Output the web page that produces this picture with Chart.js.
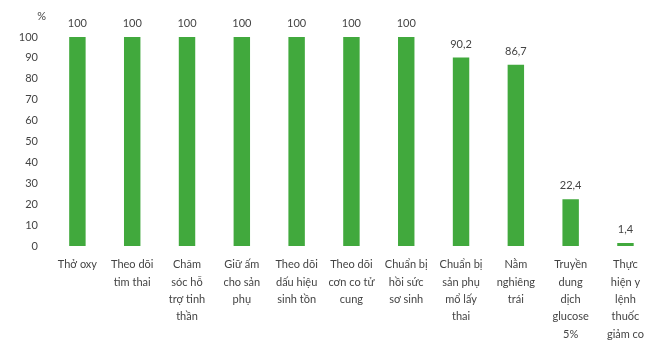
<!DOCTYPE html>
<html>
<head>
<meta charset="utf-8">
<script src="https://cdn.jsdelivr.net/npm/chart.js@4/dist/chart.umd.min.js"></script>
<style>
html,body{margin:0;padding:0;background:#fff;overflow:hidden;width:650px;height:342px;}
#wrap{width:654px;height:342px;position:relative;}
</style>
</head>
<body>
<div id="wrap"><canvas id="c"></canvas></div>
<script>
const categories = [
  ["Thở oxy"],
  ["Theo dõi", "tim thai"],
  ["Chăm", "sóc hỗ", "trợ tinh", "thần"],
  ["Giữ ấm", "cho sản", "phụ"],
  ["Theo dõi", "dấu hiệu", "sinh tồn"],
  ["Theo dõi", "cơn co tử", "cung"],
  ["Chuẩn bị", "hồi sức", "sơ sinh"],
  ["Chuẩn bị", "sản phụ", "mổ lấy", "thai"],
  ["Nằm", "nghiêng", "trái"],
  ["Truyền", "dung", "dịch", "glucose", "5%"],
  ["Thực", "hiện y", "lệnh", "thuốc", "giảm co"]
];
const values = [100, 100, 100, 100, 100, 100, 100, 90.2, 86.7, 22.4, 1.4];
const yTicks = [0, 10, 20, 30, 40, 50, 60, 70, 80, 90, 100];
const yUnit = "%";

const FONT = "Lato, 'Open Sans', sans-serif";
const TXT = "#444444";

const labelPlugin = {
  id: "valueLabels",
  afterDatasetsDraw(chart) {
    const ctx = chart.ctx;
    const meta = chart.getDatasetMeta(0);
    ctx.save();
    ctx.font = "11px " + FONT;
    ctx.fillStyle = TXT;
    ctx.textAlign = "center";
    ctx.textBaseline = "bottom";
    meta.data.forEach((bar, i) => {
      ctx.fillText(String(values[i]).replace(".", ","), bar.x, bar.y - 8);
    });
    const ys = chart.scales.y;
    ctx.textAlign = "right";
    ctx.fillText(yUnit, ys.right - 4, ys.top - 15);
    ctx.restore();
  }
};

new Chart(document.getElementById("c"), {
  type: "bar",
  data: {
    labels: categories,
    datasets: [{
      data: values,
      backgroundColor: "#41a93d",
      borderWidth: 0,
      barPercentage: 0.6,
      categoryPercentage: 0.5
    }]
  },
  options: {
    responsive: true,
    maintainAspectRatio: false,
    animation: false,
    layout: { padding: { top: 37, left: 0, right: 0, bottom: 0 } },
    plugins: { legend: { display: false }, tooltip: { enabled: false } },
    scales: {
      x: {
        grid: { display: false, drawTicks: false },
        border: { display: false },
        ticks: {
          autoSkip: false, maxRotation: 0, minRotation: 0,
          color: TXT, padding: 10,
          font: { family: FONT, size: 11, lineHeight: 1.58 }
        },
        afterFit(s) { s.height = 96; }
      },
      y: {
        min: 0, max: 100,
        afterBuildTicks(s) { s.ticks = yTicks.map(v => ({ value: v })); },
        grid: { display: false, drawTicks: false },
        border: { display: false },
        ticks: {
          color: TXT, padding: 12,
          font: { family: FONT, size: 11 }
        },
        afterFit(s) { s.width = 50; }
      }
    }
  },
  plugins: [labelPlugin]
});
</script>
</body>
</html>
